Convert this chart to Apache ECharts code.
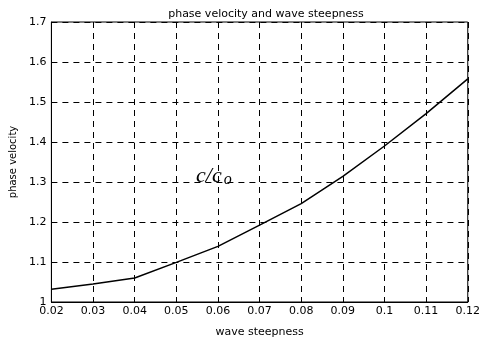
<!DOCTYPE html>
<html>
<head>
<meta charset="utf-8">
<script src="https://cdn.jsdelivr.net/npm/echarts@6/dist/echarts.min.js"></script>
<style>
  html, body { margin: 0; padding: 0; background: #fff; }
  #main { width: 483px; height: 343px; }
</style>
</head>
<body>
<div id="main"></div>
<script>
// wave steepness (x) and phase velocity ratio c/co (y)
var steepness = [0.02, 0.03, 0.04, 0.05, 0.06, 0.07, 0.08, 0.09, 0.10, 0.11, 0.12];
var velocity = [1.032, 1.045, 1.060, 1.099, 1.139, 1.192, 1.246, 1.314, 1.390, 1.471, 1.558];

var points = [];
for (var i = 0; i < steepness.length; i++) {
  points.push([steepness[i], velocity[i]]);
}

var chart = echarts.init(document.getElementById('main'));

var dash = { color: '#000', width: 1, type: [6, 5] };
var font = 'DejaVu Sans';

var option = {
  backgroundColor: '#fff',
  animation: false,
  title: {
    text: 'phase velocity and wave steepness',
    left: 261,
    top: 4,
    textAlign: 'center',
    textStyle: { fontFamily: font, fontSize: 11, fontWeight: 'normal', color: '#000' }
  },
  grid: {
    left: 50, right: 11, top: 22, bottom: 34,
    show: true, borderColor: '#000', borderWidth: 1
  },
  xAxis: {
    type: 'value',
    min: 0.02, max: 0.12, interval: 0.01,
    name: 'wave steepness',
    nameLocation: 'middle',
    nameGap: 25,
    nameTextStyle: { fontFamily: font, fontSize: 11, color: '#000' },
    axisLine: { lineStyle: { color: '#000', width: 1 } },
    axisTick: { inside: true, length: 4, lineStyle: { color: '#000' } },
    axisLabel: {
      fontFamily: font, fontSize: 11, color: '#000', margin: 4,
      formatter: function (v) { return String(parseFloat(v.toFixed(2))); }
    },
    splitLine: { show: true, lineStyle: dash }
  },
  yAxis: {
    type: 'value',
    min: 1, max: 1.7, interval: 0.1,
    name: 'phase velocity',
    nameLocation: 'middle',
    nameGap: 32,
    nameTextStyle: { fontFamily: font, fontSize: 10, color: '#000' },
    axisLine: { show: true, lineStyle: { color: '#000', width: 1 } },
    axisTick: { show: true, inside: true, length: 4, lineStyle: { color: '#000' } },
    axisLabel: {
      fontFamily: font, fontSize: 11, color: '#000', margin: 5,
      formatter: function (v) { return String(parseFloat(v.toFixed(1))); }
    },
    splitLine: { show: true, lineStyle: dash }
  },
  graphic: [{
    type: 'text',
    left: 196,
    top: 165,
    style: {
      text: '{a|c/c}{b|o}',
      rich: {
        a: { fontFamily: 'Liberation Serif', fontStyle: 'italic', fontSize: 22, fill: '#000' },
        b: { fontFamily: 'Liberation Serif', fontStyle: 'italic', fontSize: 16, fill: '#000', padding: [7, 0, 0, 2] }
      }
    }
  }],
  series: [{
    type: 'line',
    data: points,
    symbol: 'none',
    lineStyle: { color: '#000', width: 1.5 }
  }]
};

chart.setOption(option);
</script>
</body>
</html>
